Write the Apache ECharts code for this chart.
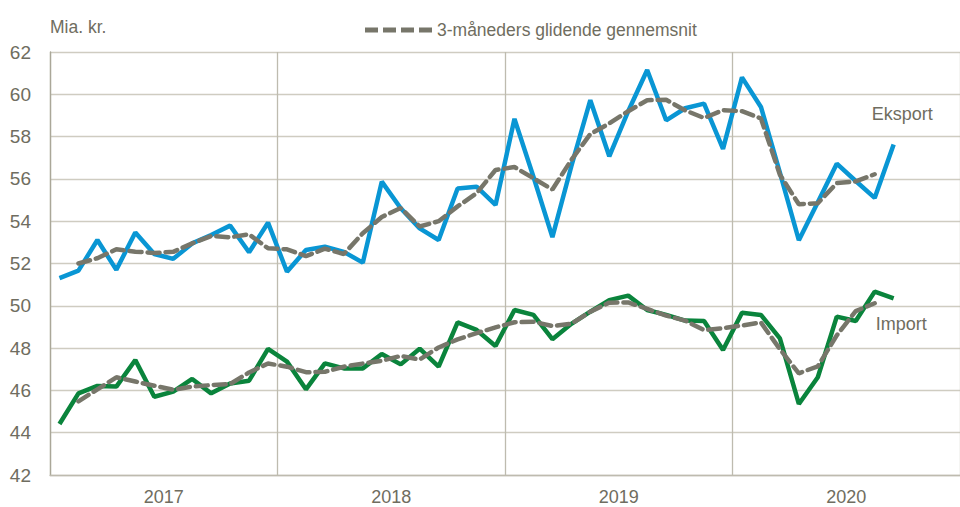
<!DOCTYPE html>
<html>
<head>
<meta charset="utf-8">
<script src="https://cdn.jsdelivr.net/npm/echarts@6/dist/echarts.min.js"></script>
<style>
  html, body { margin: 0; padding: 0; background: #fff; }
  #main { width: 960px; height: 507px; }
</style>
</head>
<body>
<div id="main"></div>
<script>
// aar paa x-aksen
var years = ['2017', '2018', '2019', '2020'];

// maaneder, jan 2017 - dec 2020
var months = [];
for (var y = 0; y < years.length; y++) {
	for (var m = 1; m <= 12; m++) {
		months.push(years[y] + '-' + (m < 10 ? '0' + m : m));
	}
}

// mia. kr., jan 2017 - sep 2020
var eksport = [51.31, 51.66, 53.11, 51.70, 53.47, 52.45, 52.22, 52.95, 53.35, 53.79, 52.53, 53.93,
	51.61, 52.64, 52.79, 52.55, 52.04, 55.87, 54.61, 53.66, 53.11, 55.55, 55.63, 54.77,
	58.84, 56.10, 53.25, 56.60, 59.72, 57.07, 59.20, 61.15, 58.77, 59.34, 59.56, 57.42,
	60.80, 59.40, 56.30, 53.10, 54.90, 56.72, 55.90, 55.10, 57.63];

var importData = [44.41, 45.86, 46.21, 46.18, 47.44, 45.70, 45.94, 46.54, 45.86, 46.33, 46.46, 47.96,
	47.36, 46.05, 47.28, 47.04, 47.04, 47.72, 47.23, 47.97, 47.12, 49.22, 48.86, 48.10,
	49.80, 49.57, 48.42, 49.15, 49.72, 50.27, 50.48, 49.80, 49.57, 49.30, 49.28, 47.91,
	49.67, 49.57, 48.46, 45.36, 46.62, 49.49, 49.28, 50.67, 50.35];

// 3-maaneders glidende gennemsnit (centreret)
var eksportGns = [null, 52.00, 52.25, 52.67, 52.56, 52.50, 52.55, 52.95, 53.30, 53.24, 53.38, 52.72,
	52.67, 52.35, 52.70, 52.45, 53.43, 54.20, 54.62, 53.75, 54.00, 54.70, 55.32, 56.42,
	56.56, 56.03, 55.50, 56.90, 58.12, 58.62, 59.20, 59.72, 59.74, 59.24, 58.88, 59.25,
	59.20, 58.86, 56.20, 54.80, 54.85, 55.80, 55.88, 56.22, null];

var importGns = [null, 45.48, 46.05, 46.62, 46.42, 46.22, 46.03, 46.18, 46.25, 46.30, 46.85, 47.27,
	47.12, 46.86, 46.88, 47.12, 47.27, 47.40, 47.63, 47.46, 48.03, 48.41, 48.71, 48.98,
	49.22, 49.25, 49.04, 49.15, 49.72, 50.15, 50.16, 49.85, 49.54, 49.30, 48.85, 48.94,
	49.07, 49.21, 47.95, 46.81, 47.14, 48.60, 49.75, 50.12, null];

var yTicks = [42, 44, 46, 48, 50, 52, 54, 56, 58, 60, 62];

var gnsNavn = '3-måneders glidende gennemsnit';
var font = "'Liberation Sans', Arial, sans-serif";
var tekstFarve = '#6f6d60';
var gnsFarve = '#77766a';

// stiplet streg i forklaringen (4 streger)
var gnsIkon = 'path://M0,0h13v5h-13z M18,0h13v5h-13z M36,0h13v5h-13z M54,0h13v5h-13z';

var chart = echarts.init(document.getElementById('main'), null, { renderer: 'svg' });

var option = {
	animation : false,
	backgroundColor : '#fff',
	textStyle : { fontFamily : font },
	grid : { left : 50, right : -10, top : 52, bottom : 32 },
	legend : {
		data : [{ name : gnsNavn, icon : gnsIkon }],
		left : 360,
		top : 16,
		itemWidth : 67,
		itemHeight : 5,
		itemGap : 6,
		textStyle : { fontFamily : font, fontSize : 17.5, color : tekstFarve }
	},
	graphic : [{
		type : 'text',
		left : 50,
		top : 18,
		style : { text : 'Mia. kr.', font : '17.5px ' + font, fill : tekstFarve }
	}],
	xAxis : [{
		type : 'category',
		data : months,
		boundaryGap : true,
		axisLine : { show : false },
		axisTick : { show : false, interval : 11 },
		axisLabel : { show : false, interval : 11 },
		splitLine : { show : true, interval : 11, lineStyle : { color : '#bebbaf', width : 1.3 } }
	}, {
		type : 'category',
		data : years,
		position : 'bottom',
		boundaryGap : true,
		axisLine : { show : true, lineStyle : { color : '#bebbaf', width : 1.3 } },
		axisTick : { show : false },
		splitLine : { show : false },
		axisLabel : { fontFamily : font, fontSize : 18, color : tekstFarve, margin : 13 }
	}],
	yAxis : {
		type : 'value',
		min : yTicks[0],
		max : yTicks[yTicks.length - 1],
		interval : 2,
		axisLine : { show : true, lineStyle : { color : '#aaa798', width : 1.3 } },
		axisTick : { show : false },
		axisLabel : { fontFamily : font, fontSize : 19, color : tekstFarve, margin : 19 },
		splitLine : { lineStyle : { color : '#cfccc1', width : 1.3 } }
	},
	series : [{
		name : 'Eksport',
		type : 'line',
		data : eksport,
		symbol : 'none',
		lineStyle : { color : '#0996d4', width : 4.5 },
		itemStyle : { color : '#0996d4' },
		endLabel : {
			show : true,
			formatter : 'Eksport',
			offset : [-30, -30],
			fontFamily : font,
			fontSize : 18,
			color : tekstFarve
		},
		z : 2
	}, {
		name : 'Import',
		type : 'line',
		data : importData,
		symbol : 'none',
		lineStyle : { color : '#0a843c', width : 4.5 },
		itemStyle : { color : '#0a843c' },
		endLabel : {
			show : true,
			formatter : 'Import',
			offset : [-26, 26],
			fontFamily : font,
			fontSize : 18,
			color : tekstFarve
		},
		z : 2
	}, {
		name : gnsNavn,
		type : 'line',
		data : eksportGns,
		symbol : 'none',
		lineStyle : { color : gnsFarve, width : 4.5, type : [12, 6], cap : 'round' },
		itemStyle : { color : gnsFarve },
		z : 3
	}, {
		name : gnsNavn,
		type : 'line',
		data : importGns,
		symbol : 'none',
		lineStyle : { color : gnsFarve, width : 4.5, type : [12, 6], cap : 'round' },
		itemStyle : { color : gnsFarve },
		z : 3
	}]
};

chart.setOption(option);
window.onresize = chart.resize;
</script>
</body>
</html>
